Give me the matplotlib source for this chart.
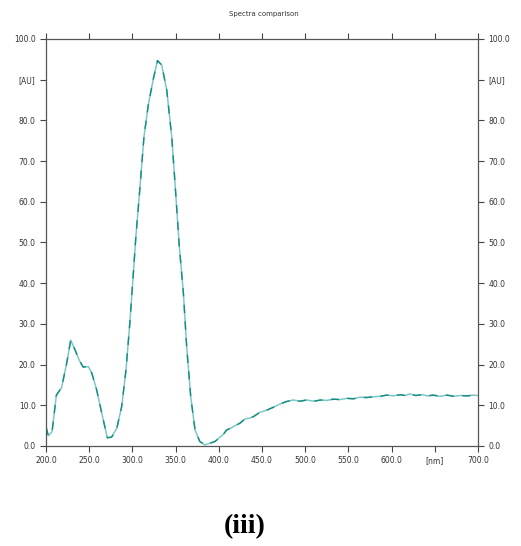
import matplotlib
matplotlib.use("Agg")
import matplotlib.pyplot as plt

wavelength = [200, 202.7, 207, 212, 218, 224, 228.6, 233.6, 238.6, 243, 249, 253, 258.6, 264.5,
              271, 276, 282, 287.6, 292.6, 297, 300.3, 304, 308.8, 313.4, 318.4, 324, 329,
              333.9, 339.7, 345.5, 349.3, 354.3, 359, 362.8, 367.5, 372.5, 378, 384, 390,
              395.6, 401, 405, 409, 414, 419, 424.5, 430, 435, 440, 447, 455.4, 462, 470.8,
              478, 486, 494, 501.7, 510, 518, 525, 532.5, 540, 548, 556, 563.4, 571, 579,
              587, 594.3, 602, 610, 616, 621, 628, 635, 642, 648, 656, 664, 672, 679, 688, 694, 700]
absorbance = [4.7, 2.5, 3.5, 12.5, 14.3, 20.4, 26.0, 23.6, 21.0, 19.4, 19.5, 17.9, 13.8, 8.1,
              2.0, 2.2, 4.4, 9.7, 18.7, 30.2, 40.0, 51.4, 63.7, 76.0, 83.8, 90.0, 94.7,
              93.6, 87.5, 76.0, 64.6, 49.0, 37.6, 24.4, 12.1, 3.9, 1.1, 0.25, 0.7,
              1.1, 2.1, 2.8, 3.9, 4.4, 5.0, 5.6, 6.6, 6.8, 7.2, 8.2, 8.8, 9.4, 10.3,
              10.9, 11.3, 11.0, 11.3, 11.0, 11.3, 11.2, 11.5, 11.4, 11.7, 11.6, 12.0, 11.9, 12.1,
              12.2, 12.5, 12.3, 12.6, 12.4, 12.8, 12.4, 12.6, 12.3, 12.5, 12.2, 12.5, 12.2, 12.4, 12.3, 12.5, 12.4]

xticks = [200, 250, 300, 350, 400, 450, 500, 550, 600, 650, 700]
xticklabels = ["200.0", "250.0", "300.0", "350.0", "400.0", "450.0", "500.0", "550.0", "600.0", "[nm]", "700.0"]
yticks = [0, 10, 20, 30, 40, 50, 60, 70, 80, 90, 100]
yticklabels = ["0.0", "10.0", "20.0", "30.0", "40.0", "50.0", "60.0", "70.0", "80.0", "[AU]", "100.0"]

fig = plt.figure(figsize=(5.21, 5.46), dpi=100)
ax = fig.add_axes([0.0883, 0.1832, 0.8292, 0.7454])

ax.plot(wavelength, absorbance, color="#7cc8c3", lw=1.1)
ax.plot(wavelength, absorbance, color="#138a84", lw=1.0, dashes=(6, 6))

ax.set_xlim(200, 700)
ax.set_ylim(0, 100)
ax.set_xticks(xticks)
ax.set_xticklabels(xticklabels)
ax.set_yticks(yticks)
ax.set_yticklabels(yticklabels)

tc = "#444444"
ax.tick_params(axis="both", which="both", direction="out", length=4, width=0.8,
               colors=tc, labelsize=5.5, labelcolor="#333333",
               top=True, right=True, labelright=True, labeltop=False)
for s in ax.spines.values():
    s.set_color("#555555")
    s.set_linewidth(0.9)

fig.text(0.507, 0.974, "Spectra comparison", ha="center", va="center", fontsize=5, color="#333333")
fig.text(0.47, 0.035, "(iii)", ha="center", va="center", fontsize=20, fontweight="bold",
         family="Liberation Serif")

fig.savefig("out.png", dpi=100)
